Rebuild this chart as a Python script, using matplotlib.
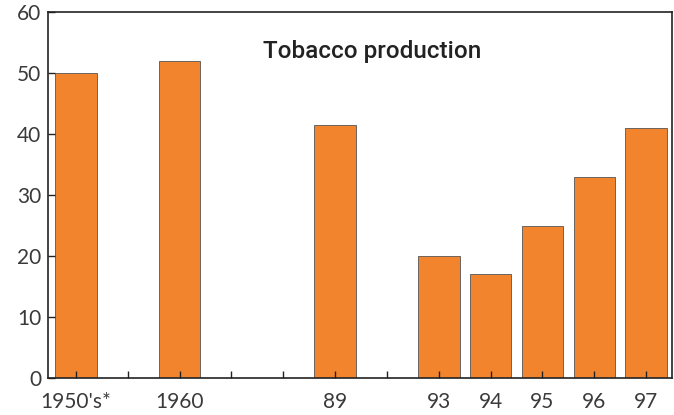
import numpy as np
import matplotlib.pyplot as plt

categories = ["1950's*", "", "1960", "", "", "89", "", "93", "94", "95", "96", "97"]
values = [50, None, 52, None, None, 41.5, None, 20, 17, 25, 33, 41]
y_ticks = [0, 10, 20, 30, 40, 50, 60]

fig = plt.figure(figsize=(6.74, 4.15), dpi=100)
ax = fig.add_axes([48 / 674, 37 / 415, 624 / 674, 366 / 415])
ax.set_axisbelow(False)

x = np.arange(len(categories))
bx = [i for i, v in zip(x, values) if v is not None]
bv = [v for v in values if v is not None]
ax.bar(bx, bv, width=0.8, color='#F2842E', edgecolor='#555555', linewidth=0.6, zorder=1)

ax.set_xlim(-0.54, 11.5)
ax.set_ylim(0, 60)
ax.set_xticks(x)
ax.set_xticklabels(categories)
ax.set_yticks(y_ticks)
ax.tick_params(direction='in', length=5, width=1, colors='#222222', labelcolor='#3a3a3a',
               labelsize=15, pad=10)
ax.tick_params(axis='y', pad=5)
for lab in ax.get_xticklabels() + ax.get_yticklabels():
    lab.set_family('Lato')
for s in ax.spines.values():
    s.set_linewidth(1.2)
    s.set_color('#222222')

ax.text(0.52, 0.893, 'Tobacco production', transform=ax.transAxes, ha='center', va='center',
        fontsize=17.5, fontweight='medium', family='Roboto', color='#222222')

fig.savefig('out.png', dpi=100)
